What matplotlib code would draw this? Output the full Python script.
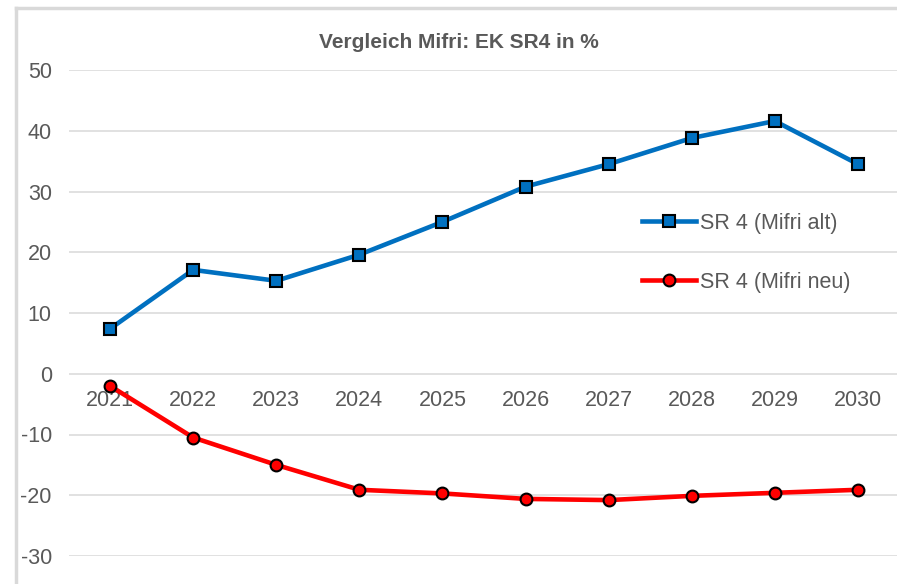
import matplotlib.pyplot as plt
from matplotlib.lines import Line2D

# data
years = ['2021', '2022', '2023', '2024', '2025', '2026', '2027', '2028', '2029', '2030']
mifri_alt = [7.4, 17.1, 15.3, 19.6, 25.0, 30.8, 34.5, 38.8, 41.6, 34.5]
mifri_neu = [-2.0, -10.5, -15.0, -19.1, -19.7, -20.6, -20.8, -20.1, -19.6, -19.1]
y_ticks = [-30, -20, -10, 0, 10, 20, 30, 40, 50]

plt.rcParams['font.family'] = ['Liberation Sans', 'DejaVu Sans']
plt.rcParams['axes.unicode_minus'] = False
txt = '#595959'
grid = '#D9D9D9'

fig = plt.figure(figsize=(8.97, 5.84), dpi=100)
ax = fig.add_axes([68.5 / 897, 28 / 584, 831 / 897, 486 / 584])

x = list(range(len(years)))
ax.plot(x, mifri_alt, color='#0070C0', lw=3.3, marker='s', ms=8,
        mfc='#0070C0', mec='black', mew=1.5, label='SR 4 (Mifri alt)', zorder=3)
ax.plot(x, mifri_neu, color='#FF0000', lw=3.3, marker='o', ms=8.5,
        mfc='#FF0000', mec='black', mew=1.5, label='SR 4 (Mifri neu)', zorder=3)

ax.set_xlim(-0.5, len(years) - 0.5)
ax.set_ylim(-30, 50)
ax.set_yticks(y_ticks)
ax.set_xticks(x)
ax.set_xticklabels(years)
ax.yaxis.grid(True, color=grid, lw=1.1)
ax.set_axisbelow(True)
for s in ax.spines.values():
    s.set_visible(False)
ax.spines['bottom'].set_position(('data', 0))
ax.tick_params(axis='both', length=0, labelsize=15.5, labelcolor=txt)
ax.tick_params(axis='x', pad=12)
ax.tick_params(axis='y', pad=12)

ax.legend(loc='upper left', bbox_to_anchor=((642 - 68.5) / 831, (584 - 28 - 213) / 486),
          frameon=False, fontsize=15.5, labelcolor=txt, labelspacing=1.76,
          handlelength=2.5, handletextpad=0.2, borderaxespad=0, borderpad=0)

fig.text(459 / 897, 1 - 42 / 584, 'Vergleich Mifri: EK SR4 in %', ha='center',
         va='center', fontsize=15, fontweight='bold', color=txt)

# chart frame edges (top and left)
fig.add_artist(Line2D([16 / 897, 1], [1 - 8 / 584, 1 - 8 / 584], color=grid, lw=2.5))
fig.add_artist(Line2D([16 / 897, 16 / 897], [0, 1 - 8 / 584], color=grid, lw=2.5))

plt.savefig('out.png', dpi=100)
